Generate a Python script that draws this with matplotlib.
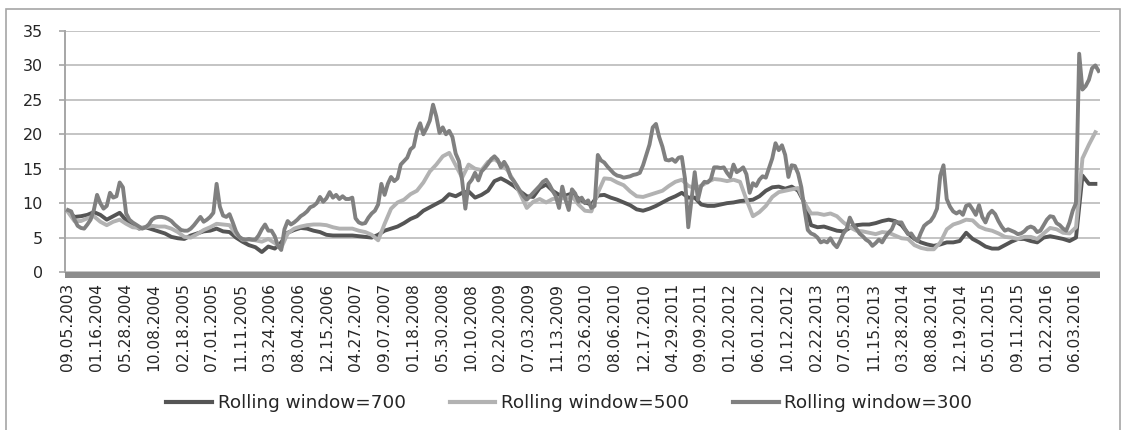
import numpy as np
import matplotlib
matplotlib.use("Agg")
import matplotlib.pyplot as plt
from matplotlib.patches import Rectangle
from matplotlib.lines import Line2D

date_labels = ["09.05.2003", "01.16.2004", "05.28.2004", "10.08.2004", "02.18.2005", "07.01.2005",
               "11.11.2005", "03.24.2006", "08.04.2006", "12.15.2006", "04.27.2007", "09.07.2007",
               "01.18.2008", "05.30.2008", "10.10.2008", "02.20.2009", "07.03.2009", "11.13.2009",
               "03.26.2010", "08.06.2010", "12.17.2010", "04.29.2011", "09.09.2011", "01.20.2012",
               "06.01.2012", "10.12.2012", "02.22.2013", "07.05.2013", "11.15.2013", "03.28.2014",
               "08.08.2014", "12.19.2014", "05.01.2015", "09.11.2015", "01.22.2016", "06.03.2016"]

series_names = ["Rolling window=700", "Rolling window=500", "Rolling window=300"]

vol_700 = [8.8, 8.0, 8.1, 8.3, 8.7, 8.3, 7.6, 8.1, 8.6, 7.5,
           7.0, 6.3, 6.5, 6.2, 5.9, 5.6, 5.1, 4.9, 4.8, 5.3,
           5.6, 5.9, 6.0, 6.3, 5.9, 5.8, 5.0, 4.4, 3.9, 3.6,
           2.9, 3.7, 3.4, 4.3, 5.7, 6.1, 6.4, 6.3, 6.0, 5.8,
           5.4, 5.3, 5.3, 5.3, 5.3, 5.2, 5.1, 5.0, 5.4, 6.0,
           6.3, 6.6, 7.1, 7.7, 8.1, 8.9, 9.4, 9.9, 10.4, 11.3,
           11.0, 11.5, 11.7, 10.8, 11.2, 11.8, 13.2, 13.6, 13.1, 12.5,
           11.7, 11.0, 10.9, 12.2, 12.7, 11.8, 11.2, 11.1, 11.4, 10.7,
           10.1, 9.8, 11.1, 11.2, 10.8, 10.5, 10.1, 9.7, 9.1, 8.9,
           9.2, 9.6, 10.1, 10.6, 11.0, 11.5, 10.8, 10.8, 9.8, 9.6,
           9.6, 9.8, 10.0, 10.1, 10.3, 10.4, 10.5, 11.0, 11.8, 12.3,
           12.4, 12.1, 12.4, 11.8, 10.0, 6.8, 6.5, 6.6, 6.3, 6.0,
           5.9, 6.4, 6.8, 6.9, 6.9, 7.1, 7.4, 7.6, 7.4, 6.8,
           5.6, 4.8, 4.3, 4.0, 3.8, 4.0, 4.3, 4.3, 4.5, 5.7,
           4.8, 4.3, 3.7, 3.4, 3.4, 3.9, 4.4, 4.8, 4.8, 4.5,
           4.3, 5.0, 5.2, 5.0, 4.8, 4.5, 5.0, 14.0, 12.8, 12.8]

vol_500 = [8.7, 7.4, 7.4, 7.8, 8.1, 7.3, 6.8, 7.3, 7.6, 7.0,
           6.5, 6.4, 6.5, 6.7, 6.6, 6.6, 6.3, 5.8, 5.1, 5.0,
           5.5, 6.1, 6.5, 7.0, 6.9, 6.8, 5.5, 4.7, 4.7, 4.6,
           4.4, 4.8, 4.2, 3.5, 5.6, 6.3, 6.6, 6.8, 6.9, 6.9,
           6.8, 6.5, 6.3, 6.3, 6.3, 6.0, 5.8, 5.4, 4.6, 7.0,
           9.2, 10.1, 10.5, 11.3, 11.8, 13.0, 14.6, 15.6, 16.8, 17.3,
           15.5, 13.7, 15.6, 15.0, 14.8, 16.0, 16.4, 15.7, 14.8, 13.2,
           11.3, 9.3, 10.2, 10.6, 10.1, 10.6, 10.7, 10.7, 11.0, 9.8,
           8.9, 8.8, 11.5, 13.6, 13.5, 13.0, 12.6, 11.7, 11.0, 10.9,
           11.2, 11.5, 11.8, 12.5, 13.1, 13.4, 12.5, 12.2, 12.5, 13.1,
           13.5, 13.4, 13.2, 13.4, 13.1, 10.5, 8.1, 8.7, 9.6, 10.9,
           11.6, 11.8, 12.0, 12.2, 10.0, 8.5, 8.5, 8.3, 8.5, 8.1,
           7.2, 6.5, 6.0, 5.9, 5.7, 5.5, 5.8, 5.7, 5.3, 4.9,
           4.8, 3.9, 3.5, 3.3, 3.3, 4.3, 6.2, 6.9, 7.2, 7.6,
           7.5, 6.6, 6.2, 6.0, 5.6, 5.1, 5.0, 4.8, 5.1, 5.1,
           4.8, 5.6, 6.4, 6.2, 5.7, 5.6, 6.5, 16.5, 18.5, 20.3]

vol_300 = [9.0, 8.8, 7.6, 6.7, 6.4, 6.3, 6.9, 7.6, 9.0, 11.2,
           10.0, 9.2, 9.6, 11.5, 10.8, 11.0, 13.0, 12.3, 8.5, 7.6,
           7.2, 6.9, 6.6, 6.3, 6.5, 6.9, 7.6, 7.9, 8.0, 8.0,
           7.9, 7.7, 7.4, 6.9, 6.5, 6.1, 6.0, 6.0, 6.3, 6.8,
           7.4, 8.0, 7.3, 7.6, 8.0, 8.6, 12.8, 9.5, 8.2, 8.0,
           8.4, 7.2, 5.9, 5.1, 4.8, 4.7, 4.8, 4.7, 4.7, 5.3,
           6.2, 6.9, 6.0, 6.0, 5.2, 3.8, 3.2, 6.2, 7.4, 6.9,
           7.2, 7.6, 8.1, 8.4, 8.8, 9.4, 9.6, 10.0, 10.9, 10.2,
           10.7, 11.6, 10.8, 11.2, 10.6, 11.0, 10.6, 10.6, 10.8, 7.8,
           7.2, 7.0, 7.1, 7.9, 8.5, 8.9, 9.8, 12.8, 11.2, 12.8,
           13.8, 13.2, 13.6, 15.6, 16.1, 16.6, 17.8, 18.2, 20.4, 21.6,
           20.0, 20.9, 22.0, 24.3, 22.6, 20.2, 21.0, 20.0, 20.5, 19.6,
           17.2, 16.1, 13.3, 9.2, 12.8, 13.4, 14.4, 13.3, 14.6, 15.1,
           15.7, 16.4, 16.8, 16.3, 15.2, 16.0, 15.2, 13.8, 13.2, 12.5,
           11.7, 11.0, 10.5, 11.0, 11.5, 12.0, 12.5, 13.1, 13.4, 12.7,
           11.8, 11.0, 9.3, 12.4, 10.5, 9.0, 12.0, 11.4, 10.2, 10.8,
           10.0, 10.4, 9.3, 9.6, 17.0, 16.2, 15.9, 15.3, 14.8, 14.3,
           14.0, 13.9, 13.7, 13.8, 13.9, 14.1, 14.2, 14.4, 15.5, 17.0,
           18.5, 21.0, 21.5, 19.6, 18.2, 16.3, 16.2, 16.4, 16.0, 16.6,
           16.7, 13.5, 6.5, 10.5, 14.5, 10.5, 12.5, 13.1, 13.0, 13.5,
           15.2, 15.2, 15.1, 15.2, 14.4, 13.8, 15.6, 14.5, 14.8, 15.2,
           14.2, 11.5, 12.9, 12.5, 13.4, 13.9, 13.7, 15.1, 16.5, 18.7,
           17.7, 18.4, 17.0, 13.8, 15.5, 15.4, 14.3, 12.3, 9.0, 6.1,
           5.6, 5.4, 5.0, 4.3, 4.5, 4.3, 4.9, 4.1, 3.6, 4.5,
           5.6, 6.2, 7.9, 6.9, 6.3, 5.6, 5.2, 4.7, 4.4, 3.8,
           4.2, 4.7, 4.3, 5.1, 5.7, 6.2, 7.3, 7.2, 7.2, 6.3,
           5.5, 5.6, 4.9, 4.5, 5.7, 6.7, 7.1, 7.4, 8.1, 9.2,
           14.0, 15.5, 10.6, 9.5, 8.8, 8.5, 8.8, 8.3, 9.6, 9.8,
           9.1, 8.3, 9.7, 8.0, 7.2, 8.4, 8.9, 8.4, 7.4, 6.6,
           6.0, 6.2, 6.0, 5.8, 5.5, 5.6, 5.9, 6.4, 6.6, 6.4,
           5.8, 6.0, 6.8, 7.6, 8.1, 8.0, 7.1, 6.8, 6.3, 6.0,
           7.2, 8.9, 10.0, 31.7, 26.5, 27.0, 27.9, 29.6, 30.0, 29.2]

colors = ["#555555", "#b2b2b2", "#808080"]

W, H = 1125, 430
fig = plt.figure(figsize=(W / 100, H / 100), dpi=100)
ax = fig.add_axes([65 / W, 1 - 272 / H, 1035 / W, 241 / H])

x_long = np.linspace(0, 35.71, len(vol_700))
x_short = np.linspace(0, 35.82, len(vol_300))

for xs, ys, c, name in [(x_long, vol_700, colors[0], series_names[0]),
                        (x_long, vol_500, colors[1], series_names[1]),
                        (x_short, vol_300, colors[2], series_names[2])]:
    ax.plot(xs, ys, color=c, lw=2.8, label=name, solid_joinstyle="round", zorder=3)

ax.set_xlim(-0.104, 35.87)
ax.set_ylim(0, 35)
ax.set_yticks(np.arange(0, 36, 5))
ax.set_xticks(np.arange(len(date_labels)))
ax.set_xticklabels(date_labels, rotation=90)

ax.yaxis.grid(True, color="#c4c4c4", lw=1.4)
ax.set_axisbelow(True)
for s in ["top", "right", "bottom"]:
    ax.spines[s].set_visible(False)
ax.spines["left"].set_color("#a6a6a6")
ax.spines["left"].set_linewidth(1.4)

ax.tick_params(axis="y", length=4.3, width=1.2, color="#a6a6a6", pad=11.5, labelsize=11.5, labelcolor="#262626")
ax.tick_params(axis="x", length=0, pad=8, labelsize=11.2, labelcolor="#262626")

# dense category tick marks forming a solid bar under the axis
ax.add_patch(Rectangle((0, -0.023), 1, 0.023, transform=ax.transAxes, clip_on=False,
                       fc="#8c8c8c", ec="none", zorder=4))

# outer chart border
fig.add_artist(Rectangle((6 / W, -0.02), (1120 - 6) / W, 1 - 9 / H + 0.02, transform=fig.transFigure,
                         fill=False, ec="#a6a6a6", lw=1.2))

handles = [Line2D([], [], color=c, lw=3.0) for c in colors]
fig.legend(handles, series_names, loc="center", bbox_to_anchor=(0.506, 1 - 403 / H), ncol=3,
           frameon=False, fontsize=13.2, handlelength=2.5, handletextpad=0.3, columnspacing=2.4,
           labelcolor="#262626")

fig.savefig("out.png", dpi=100)
